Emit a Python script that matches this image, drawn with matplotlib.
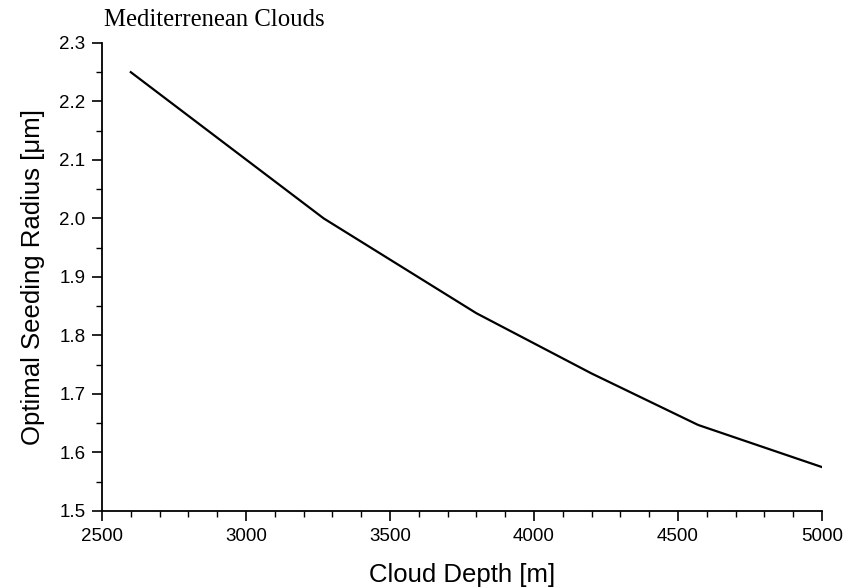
import matplotlib.pyplot as plt
from matplotlib.ticker import MultipleLocator

# Optimal seeding radius vs. cloud depth
depth = [2600, 3270, 3800, 4200, 4570, 5000]
radius = [2.25, 2.00, 1.838, 1.735, 1.647, 1.575]

plt.rcParams['font.family'] = ['Liberation Sans', 'DejaVu Sans']

fig = plt.figure(figsize=(8.6, 5.88), dpi=100)
ax = fig.add_axes([0.1186, 0.131, 0.8372, 0.796])

ax.plot(depth, radius, color='black', linewidth=1.6)

ax.set_xlim(2500, 5000)
ax.set_ylim(1.5, 2.3)
ax.xaxis.set_major_locator(MultipleLocator(500))
ax.xaxis.set_minor_locator(MultipleLocator(100))
ax.yaxis.set_major_locator(MultipleLocator(0.1))
ax.yaxis.set_minor_locator(MultipleLocator(0.05))
ax.yaxis.set_major_formatter(plt.FormatStrFormatter('%.1f'))

for side in ('top', 'right'):
    ax.spines[side].set_visible(False)
for side in ('left', 'bottom'):
    ax.spines[side].set_linewidth(1.3)

ax.tick_params(which='major', direction='out', length=7, width=1.2, labelsize=13.5, pad=5)
ax.tick_params(which='minor', direction='out', length=4.5, width=1.0)

ax.set_xlabel('Cloud Depth [m]', fontsize=18.5, labelpad=13)
ax.set_ylabel('Optimal Seeding Radius [\u03bcm]', fontsize=18.5, labelpad=10)

fig.text(0.121, 0.955, 'Mediterrenean Clouds', fontsize=17.8,
         family=['Liberation Serif', 'DejaVu Serif'], ha='left', va='baseline')

fig.savefig('out.png', dpi=100)
